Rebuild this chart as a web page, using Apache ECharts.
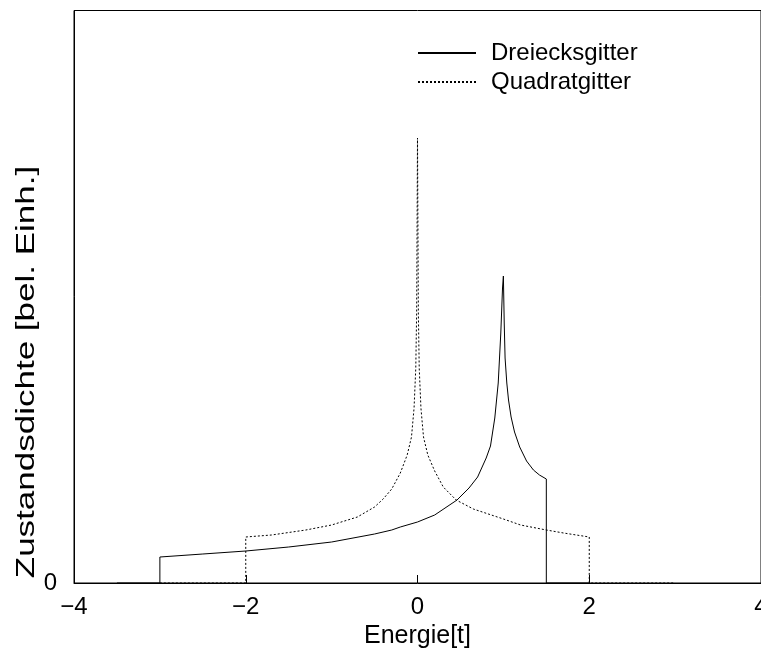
<!DOCTYPE html>
<html>
<head>
<meta charset="utf-8">
<script src="https://cdn.jsdelivr.net/npm/echarts@6/dist/echarts.min.js"></script>
<style>
html,body{margin:0;padding:0;background:#fff;}
#c{width:761px;height:651px;}
</style>
</head>
<body>
<div id="c"></div>
<script>
// Energy values (units of t) and density of states (arbitrary units)
var triE = [-3.5, -3.0, -3.0, -2.5, -2.0, -1.5, -1.0, -0.5, -0.3, -0.2, 0.0, 0.2, 0.46, 0.6, 0.7, 0.8, 0.85, 0.9, 0.94, 0.97, 0.99, 1.0, 1.01, 1.02, 1.04, 1.06, 1.09, 1.13, 1.19, 1.27, 1.35, 1.42, 1.5, 1.5, 2.0];
var triV = [0, 0, 26, 29, 32, 36, 41, 49, 53, 56, 61, 68, 83, 95, 106, 125, 137, 165, 200, 250, 295, 307, 260, 225, 200, 183, 166, 151, 136, 122, 113, 108, 104, 0, 0];

var sqE = [-3.0, -2.0, -2.0, -1.7, -1.3, -1.0, -0.7, -0.5, -0.4, -0.3, -0.2, -0.12, -0.07, -0.04, -0.02, -0.01, 0.0, 0.01, 0.02, 0.04, 0.07, 0.12, 0.2, 0.3, 0.45, 0.65, 1.0, 1.2, 1.5, 1.7, 2.0, 2.0, 3.0];
var sqV = [0, 0, 46, 48, 53, 58, 66, 76, 84, 94, 110, 128, 146, 175, 215, 270, 445, 270, 215, 175, 146, 128, 112, 96, 83, 74, 64, 58, 53, 50, 46, 0, 0];

var xTicks = [-4, -2, 0, 2, 4];
var seriesNames = ['Dreiecksgitter', 'Quadratgitter'];
var xName = 'Energie[t]';
var yName = 'Zustandsdichte [bel. Einh.]';

function zip(a, b) { return a.map(function (v, i) { return [v, b[i]]; }); }

var font = 'Liberation Sans, Arial, Helvetica, sans-serif';
var chart = echarts.init(document.getElementById('c'), null, {renderer: 'canvas'});
chart.setOption({
  animation: false,
  backgroundColor: '#fff',
  grid: {left: 74, right: 0, top: 10.5, bottom: 68, show: true, borderColor: '#000', borderWidth: 1,
         containLabel: false, outerBoundsMode: 'none'},
  legend: {
    orient: 'vertical', left: 417, top: 41, padding: 0, itemWidth: 58, itemHeight: 14, itemGap: 5,
    data: seriesNames,
    itemStyle: {opacity: 0},
    textStyle: {fontFamily: font, fontSize: 24, color: '#000', lineHeight: 24, padding: [0, 0, 0, 10]}
  },
  graphic: [{
    type: 'text', x: 27, y: 372, rotation: Math.PI / 2, scaleX: 1.4, scaleY: 1,
    style: {text: yName, font: '25px ' + font, fill: '#000', align: 'center', verticalAlign: 'middle'}
  }],
  xAxis: {
    type: 'value', min: -4, max: 4, interval: 2,
    name: xName, nameLocation: 'middle', nameGap: 37,
    nameTextStyle: {fontFamily: font, fontSize: 25, color: '#000'},
    axisLine: {lineStyle: {color: '#000', width: 1}},
    axisTick: {inside: true, length: 8, lineStyle: {color: '#000'}},
    axisLabel: {fontFamily: font, fontSize: 24, color: '#000', margin: 12,
      formatter: function (v) { return v < 0 ? '\u2212' + Math.abs(v) : String(v); }},
    splitLine: {show: false}
  },
  yAxis: {
    type: 'value', min: 0, max: 572.5, interval: 572.5,
    axisLine: {show: true, onZero: false, lineStyle: {color: '#000', width: 1}},
    axisTick: {show: false},
    axisLabel: {fontFamily: font, fontSize: 24, color: '#000', margin: 17,
      formatter: function (v) { return v === 0 ? '0' : ''; }},
    splitLine: {show: false}
  },
  series: [
    {name: seriesNames[0], type: 'line', symbol: 'none', data: zip(triE, triV),
     lineStyle: {color: '#000', width: 1, type: 'solid'}, itemStyle: {color: '#000'}},
    {name: seriesNames[1], type: 'line', symbol: 'none', data: zip(sqE, sqV),
     lineStyle: {color: '#000', width: 1, type: [2, 2]}, itemStyle: {color: '#000'}}
  ]
});
</script>
</body>
</html>
